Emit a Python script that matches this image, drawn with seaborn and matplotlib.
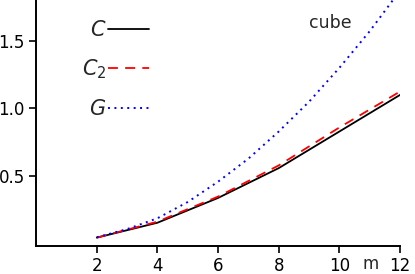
import matplotlib
matplotlib.use("Agg")
import matplotlib.pyplot as plt
import pandas as pd
import seaborn as sns

# values
m_even = [2, 4, 6, 8, 10, 12]
c_vals = [0.047, 0.157, 0.34, 0.56, 0.83, 1.10]
c2_vals = [0.047, 0.165, 0.35, 0.58, 0.86, 1.125]
m_all = [2, 3, 4, 5, 6, 7, 8, 9, 10, 11, 12]
g_vals = [0.05, 0.11, 0.19, 0.31, 0.46, 0.63, 0.83, 1.05, 1.30, 1.57, 1.87]

sns.set_style("ticks")
plt.rcParams['font.family'] = ['DejaVu Sans']
plt.rcParams['mathtext.fontset'] = 'dejavusans'

fig = plt.figure(figsize=(4.15, 2.74), dpi=100)
ax = fig.add_axes([0.087, 0.102, 0.877, 0.898])

df_c = pd.DataFrame({'m': m_even, 'C': c_vals, 'C2': c2_vals})
df_g = pd.DataFrame({'m': m_all, 'G': g_vals})

sns.lineplot(data=df_c, x='m', y='C', ax=ax, color='black', lw=1.3, label='$C$')
sns.lineplot(data=df_c, x='m', y='C2', ax=ax, color='red', lw=1.3,
             dashes=False, linestyle=(0, (5.5, 4)), label='$C_2$')
sns.lineplot(data=df_g, x='m', y='G', ax=ax, color='blue', lw=1.4,
             linestyle=(0, (1, 2.3)), label='$G$')

ax.set_xlim(0, 12)
ax.set_ylim(-0.015, 1.8)
ax.set_xticks([2, 4, 6, 8, 10, 12])
ax.set_yticks([0.5, 1.0, 1.5])
ax.set_yticklabels(['0.5', '1.0', '1.5'])
ax.tick_params(labelsize=12, length=5, width=1.2, colors='black', pad=3)
for s in ['top', 'right']:
    ax.spines[s].set_visible(False)
for s in ['left', 'bottom']:
    ax.spines[s].set_linewidth(1.4)
    ax.spines[s].set_color('black')

ax.set_xlabel('')
ax.set_ylabel('')
ax.text(11.03, -0.15, 'm', fontsize=12, ha='center', va='center')
ax.text(9.7, 1.63, 'cube', fontsize=12.5, ha='center', va='center')

ax.legend(loc='upper left', bbox_to_anchor=(0.075, 0.995), frameon=False,
          markerfirst=False, fontsize=15, handlelength=2.0,
          handletextpad=0.05, labelspacing=0.85)

fig.savefig('out.png', dpi=100)
